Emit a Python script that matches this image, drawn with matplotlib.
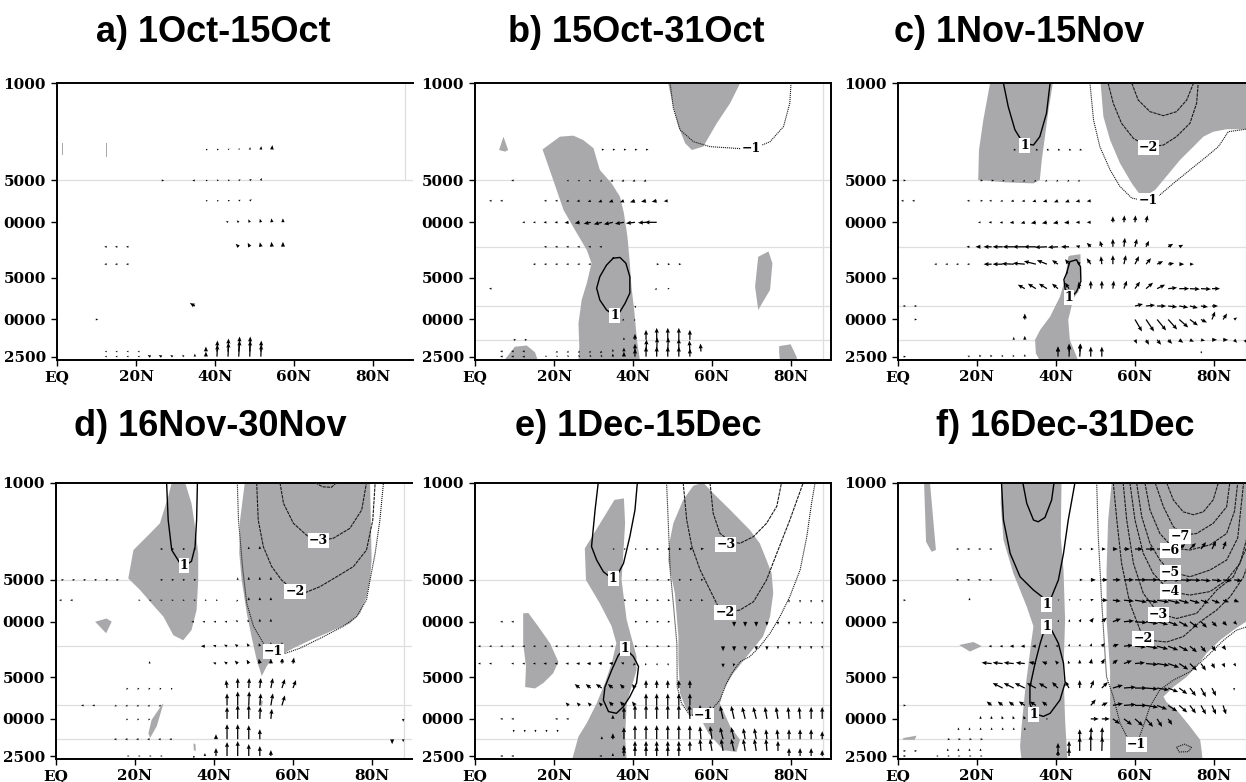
import matplotlib

matplotlib.use("Agg")

import matplotlib.pyplot as plt
from matplotlib.ticker import FixedLocator, NullLocator

# T42 Gaussian latitudes (northern hemisphere), index 0..31
LATS = [1.4, 4.2, 7.0, 9.8, 12.6, 15.3, 18.1, 20.9, 23.7, 26.5, 29.3, 32.1,
        34.9, 37.7, 40.5, 43.3, 46.0, 48.8, 51.6, 54.4, 57.2, 60.0, 62.8,
        65.6, 68.4, 71.2, 73.9, 76.7, 79.5, 82.3, 85.1, 87.9]

P_TICKS = [1000, 5000, 10000, 25000, 50000, 92500]
P_TICKLABELS = ["1000", "5000", "0000", "5000", "0000", "2500"]
LAT_TICKS = [0, 20, 40, 60, 80]
LAT_TICKLABELS = ["EQ", "20N", "40N", "60N", "80N"]
GUIDE_LEVELS = [5000, 15000, 40000, 70000]

TITLES = ["a) 1Oct-15Oct", "b) 15Oct-31Oct", "c) 1Nov-15Nov",
          "d) 16Nov-30Nov", "e) 1Dec-15Dec", "f) 16Dec-31Dec"]

# ---- significance shading: polygons of (lat, pressure) -------------------
shade_a = [
    [(1.2, 2700), (1.6, 2700), (1.6, 3300), (1.2, 3300)],
    [(12.3, 2700), (12.7, 2700), (12.7, 3400), (12.3, 3400)],
]
shade_b = [
    [(48.9, 1000), (67.1, 1000), (64.6, 1390), (61.2, 1940), (57.8, 2850),
     (54.9, 3020), (53.2, 2700), (51.5, 2050), (50.2, 1470)],
    [(6.1, 3020), (7.2, 2420), (8.4, 3020), (7.6, 3100)],
    [(17.1, 2990), (21.5, 2420), (24.9, 2380), (27.4, 2560), (30.0, 2930),
     (31.6, 4200), (34.6, 5250), (36.7, 6540), (37.7, 8600), (38.6, 12700),
     (39.2, 19700), (39.6, 29000), (40.3, 42700), (41.0, 70000),
     (41.8, 100000), (26.2, 100000), (26.4, 78500), (26.2, 53300),
     (27.0, 36200), (28.3, 27400), (29.5, 19700), (28.3, 15800),
     (25.3, 11350), (22.4, 8140), (19.8, 4960)],
    [(71.7, 17700), (74.3, 16200), (75.3, 19700), (74.7, 30600),
     (71.7, 42700), (70.9, 29000)],
    [(77.0, 77700), (79.9, 75400), (81.4, 92500), (81.6, 100000),
     (77.2, 100000), (77.0, 86000)],
    [(7.2, 100000), (10.1, 78500), (13.1, 76900), (15.2, 86100),
     (16.0, 100000)],
]
shade_c = [
    [(23.3, 1000), (39.2, 1000), (38.1, 1555), (37.2, 2420), (36.4, 3560),
     (35.9, 4960), (34.3, 5250), (27.0, 5150), (20.3, 4960), (20.5, 3020),
     (21.6, 1835)],
    [(51.3, 1000), (90, 1000), (90, 2140), (83.2, 2140), (79.8, 2230),
     (77.3, 2420), (74.8, 2855), (71.4, 3560), (67.2, 4960), (65.1, 5850),
     (63.0, 6350), (61.3, 6350), (59.2, 5250), (56.2, 3760), (53.7, 2560),
     (52.0, 1735)],
    [(43.4, 17400), (46.2, 16950), (46.2, 25800), (45.7, 31500),
     (44.4, 35300), (43.1, 50300), (43.5, 70000), (45.7, 100000),
     (36.0, 100000), (34.9, 87500), (34.7, 70000), (36.0, 59300),
     (38.5, 47700), (41.0, 34300), (42.3, 25800), (43.1, 17700)],
]
shade_d = [
    [(29.3, 1000), (32.7, 1000), (34.3, 1408), (35.2, 2070), (36.0, 3223),
     (36.0, 5010), (35.6, 8230), (34.3, 11500), (32.2, 13600), (29.7, 12500),
     (27.2, 9200), (24.2, 7380), (21.3, 5920), (18.3, 4880), (19.6, 3050),
     (23.0, 2443), (26.3, 1960), (28.4, 1260)],
    [(9.9, 10000), (12.8, 9480), (14.1, 10000), (12.7, 12100)],
    [(47.8, 1000), (79.5, 1000), (79.7, 1856), (79.9, 3600), (79.5, 5010),
     (78.6, 6600), (77.0, 8700), (74.4, 10300), (70.2, 11500), (68.5, 12100),
     (64.3, 13600), (60.1, 15500), (57.6, 16900), (55.0, 17900),
     (53.3, 21000), (52.1, 24600), (50.8, 18800), (49.5, 12800),
     (48.3, 8700), (47.0, 5010), (46.4, 3223), (46.6, 1856)],
    [(51.6, 36000), (52.4, 37500), (52.0, 41000), (51.4, 38500)],
    [(26.8, 39700), (27.2, 38700), (25.5, 56500), (23.8, 68700),
     (23.4, 63500), (24.2, 50800)],
    [(34.8, 75000), (35.3, 76000), (35.4, 85000), (34.9, 84000)],
]
shade_e = [
    [(35.3, 1330), (37.7, 1296), (38.0, 1960), (37.55, 3223), (37.1, 5010),
     (38.4, 9700), (40.9, 17800), (40.9, 22300), (38.4, 38700),
     (38.0, 67000), (38.4, 100000), (24.5, 100000), (26.2, 67000),
     (28.3, 53600), (30.8, 38700), (32.9, 27600), (34.6, 19900),
     (35.8, 14300), (34.6, 10800), (31.6, 7380), (28.1, 5010), (27.8, 2970)],
    [(12.2, 8700), (13.5, 8650), (16.0, 10800), (19.0, 14300), (21.1, 19400),
     (19.8, 23500), (17.3, 27600), (15.2, 30200), (12.7, 29500),
     (12.9, 21000), (12.2, 14300)],
    [(55.3, 1050), (57.8, 1000), (60.3, 1190), (64.6, 1570), (69.6, 2190),
     (72.1, 2730), (73.8, 3600), (75.1, 4490), (75.5, 6250), (74.7, 9200),
     (72.9, 12800), (68.8, 17800), (65.4, 23500), (62.9, 30900),
     (62.0, 38700), (64.6, 56500), (67.1, 70700), (66.2, 86400),
     (62.9, 84000), (59.1, 63500), (56.9, 48500), (54.4, 47000),
     (53.2, 40700), (51.9, 32700), (51.5, 18800), (51.5, 12800),
     (50.6, 6250), (48.9, 3600), (49.2, 2730), (50.2, 1960), (52.7, 1330)],
]
shade_f = [
    [(6.6, 1000), (8.1, 1000), (9.6, 3050), (8.5, 3140), (7.1, 2660)],
    [(26.2, 1000), (41.4, 1000), (41.2, 2443), (41.9, 4245), (42.3, 9700),
     (41.9, 22300), (42.3, 50800), (42.9, 100000), (31.3, 100000),
     (30.9, 79000), (31.3, 56500), (32.2, 30900), (33.8, 13600),
     (34.3, 10800), (32.6, 7800), (29.2, 4490), (26.7, 2580), (26.0, 1408)],
    [(54.1, 1000), (90, 1000), (90, 9200), (84.9, 11500), (81.5, 13600),
     (78.1, 16900), (75.6, 21000), (73.1, 24900), (69.7, 29500),
     (67.2, 34600), (68.0, 38000), (70.5, 43000), (73.9, 56500),
     (76.5, 70700), (76.9, 86000), (77.1, 100000), (53.7, 100000),
     (53.7, 50800), (53.7, 22300), (52.8, 9700), (52.8, 4245), (53.2, 1856)],
    [(15.5, 14700), (19.1, 14000), (21.2, 15000), (18.2, 16400)],
    [(1.3, 68700), (4.7, 66000), (4.2, 70700), (1.3, 70700)],
]

# ---- contours: (value, [(lat, p), ...], label position or None) ----------
cont_a = []
cont_b = [
    (1, [(35.0, 18100), (36.7, 17900), (38.2, 19700), (39.2, 24600),
         (39.2, 32300), (38.0, 38200), (36.7, 44000), (35.4, 47000),
         (33.3, 42700), (31.6, 36200), (30.8, 29800), (31.6, 24600),
         (33.3, 20300), (35.0, 18100)], (35.4, 47000)),
    (-1, [(49.4, 1000), (50.2, 1500), (51.9, 2160), (55.3, 2630),
          (59.5, 2855), (67.1, 2950), (70.5, 2950), (74.7, 2630),
          (78.1, 2050), (79.7, 1390), (80.0, 1000)], (70.0, 2960)),
]
cont_c = [
    (1, [(26.7, 1000), (27.9, 1470), (29.6, 2160), (31.7, 2700),
         (34.3, 2780), (35.9, 2420), (37.6, 1640), (38.5, 1000)],
     (32.0, 2780)),
    (1, [(42.7, 23200), (43.5, 19200), (45.2, 18600), (46.2, 20900),
         (46.3, 26600), (45.2, 31500), (44.0, 34300), (42.3, 30200),
         (42.0, 25800), (42.7, 23200)], (43.3, 34800)),
    (-3, [(59.2, 1000), (60.8, 1318), (63.8, 1600), (67.2, 1710),
          (70.5, 1600), (73.1, 1318), (74.8, 1000)], None),
    (-2, [(53.2, 1000), (54.5, 1393), (56.6, 1940), (59.6, 2490),
          (63.4, 2880), (67.2, 2780), (70.5, 2420), (73.9, 1940),
          (75.6, 1393), (76.0, 1000)], (63.4, 2880)),
    (-1, [(48.6, 1000), (49.5, 1835), (51.1, 2855), (53.7, 4200),
          (56.2, 5530), (59.2, 6700), (62.5, 6980), (64.2, 6980),
          (66.3, 6350), (69.7, 5250), (73.9, 4200), (78.1, 3370),
          (81.1, 2855), (82.8, 2420), (83.6, 2230), (90, 2100)],
     (63.3, 6980)),
]
cont_d = [
    (1, [(28.0, 1000), (28.4, 1856), (29.3, 3050), (31.4, 3800),
         (32.7, 3960), (34.3, 3670), (35.2, 2900), (35.6, 1856),
         (35.8, 1000)], (32.4, 3960)),
    (-4, [(65.6, 1000), (67.5, 1070), (69.7, 1080), (71.0, 1000)], None),
    (-3, [(56.7, 1000), (57.6, 1408), (60.1, 1960), (64.3, 2510),
          (66.8, 2610), (70.2, 2510), (74.4, 2130), (77.4, 1570),
          (78.6, 1000)], (66.4, 2610)),
    (-2, [(50.8, 1000), (51.2, 1856), (52.5, 2890), (54.6, 4010),
          (57.1, 5010), (60.5, 6070), (62.6, 6260), (66.8, 5600),
          (71.1, 4740), (75.3, 4010), (78.6, 3050), (80.2, 1856),
          (80.8, 1000)], (60.5, 6070)),
    (-1, [(45.9, 1000), (46.2, 1856), (47.3, 4245), (48.3, 7380),
          (50.0, 10800), (52.5, 14300), (55.0, 16500), (58.0, 16900),
          (61.8, 15500), (66.8, 13200), (72.7, 10800), (76.1, 9200),
          (78.6, 6980), (79.5, 5010), (80.8, 3223), (82.0, 1856),
          (82.9, 1000)], (55.0, 16500)),
]
cont_e = [
    (1, [(31.2, 1000), (30.4, 1570), (29.5, 2880), (30.8, 3600),
         (32.5, 4370), (34.6, 4870), (35.8, 4740), (37.6, 3800),
         (39.2, 2443), (40.5, 1570), (41.1, 1000)], (35.0, 4850)),
    (1, [(38.0, 15500), (40.1, 17800), (41.4, 21000), (40.9, 27600),
         (39.2, 34600), (37.6, 40700), (35.8, 45600), (33.8, 44300),
         (32.5, 36600), (32.9, 29500), (34.6, 22300), (36.3, 17400),
         (38.0, 15500)], (38.0, 15500)),
    (-3, [(59.5, 1000), (60.3, 1660), (62.0, 2310), (64.6, 2650),
          (67.1, 2730), (70.5, 2443), (73.8, 1960), (76.4, 1480),
          (77.6, 1000)], (63.5, 2800)),
    (-2, [(52.7, 1000), (53.6, 1856), (54.9, 2880), (57.0, 4245),
          (59.5, 5920), (62.0, 8230), (63.3, 8600), (67.1, 8230),
          (70.5, 7180), (73.8, 5010), (76.4, 3223), (79.7, 1856),
          (83.1, 1000)], (63.3, 8600)),
    (-1, [(48.5, 1000), (48.9, 1856), (49.4, 4245), (50.2, 7380),
          (51.1, 14300), (51.2, 29500), (52.3, 38700), (54.4, 47000),
          (58.2, 47000), (59.9, 43000), (62.0, 36600), (63.7, 27600),
          (65.0, 23500), (67.1, 19400), (69.6, 17800), (72.1, 15100),
          (74.7, 12100), (77.2, 9200), (79.7, 6600), (82.3, 4245),
          (84.0, 2443), (85.2, 1408), (86.1, 1000)], (57.8, 47000)),
]
cont_f = [
    (1, [(26.2, 1000), (26.7, 1856), (28.4, 3223), (30.9, 4750),
         (34.3, 5920), (36.4, 6590), (37.6, 7380), (38.9, 6590),
         (40.6, 5010), (41.9, 3223), (43.1, 1856), (44.8, 1000)],
     (37.6, 7500)),
    (2, [(31.6, 1000), (32.6, 1408), (34.3, 1856), (35.5, 1910),
         (37.2, 1780), (38.9, 1330), (39.5, 1000)], None),
    (1, [(37.6, 10800), (38.9, 11500), (40.6, 14300), (41.9, 19900),
         (42.3, 27600), (41.0, 36600), (38.5, 45600), (36.8, 48000),
         (34.3, 45600), (33.4, 38700), (33.4, 29500), (34.7, 19900),
         (36.0, 14300), (37.2, 11100), (37.6, 10800)], (37.6, 10800)),
    (1, [], (34.3, 46500)),
    (-1, [(50.3, 1000), (50.7, 2443), (51.6, 7380), (52.4, 16900),
          (52.8, 24900), (54.5, 34600), (56.2, 53600), (58.7, 74200),
          (60.4, 76500), (62.1, 56500), (63.8, 40700), (66.3, 30900),
          (69.7, 26300), (73.9, 22900), (78.1, 17900), (82.4, 13600),
          (85.7, 11500), (90, 10500)], (60.3, 76500)),
    (-1, [(70.5, 80000), (72.5, 76000), (74.3, 80000), (73.5, 86000),
          (71.2, 86500), (70.5, 80000)], None),
    (-2, [(54.5, 1000), (55.4, 1856), (56.6, 3800), (58.7, 7380),
          (61.3, 11500), (63.8, 13600), (68.0, 14000), (72.2, 12800),
          (76.5, 10000), (80.7, 8230), (84.1, 6600), (87.4, 4800),
          (90, 3000)], (62.0, 13300)),
    (-3, [(57.0, 1000), (57.9, 1856), (59.6, 3800), (62.1, 6250),
          (65.9, 8700), (70.5, 9480), (75.6, 8700), (80.7, 5920),
          (84.9, 4750), (88.1, 3000), (90, 2000)], (65.9, 8800)),
    (-4, [(58.7, 1000), (60.0, 1856), (62.1, 3223), (64.6, 4490),
          (68.9, 6070), (73.9, 6430), (79.0, 6070), (83.2, 5010),
          (86.6, 3800), (88.5, 2400), (89.0, 1000)], (68.9, 6100)),
    (-5, [(60.4, 1000), (61.7, 1755), (63.8, 2730), (66.3, 3600),
          (68.9, 4370), (73.9, 4750), (79.0, 4245), (83.2, 3600),
          (86.0, 2500), (87.5, 1000)], (68.9, 4400)),
    (-6, [(62.5, 1000), (63.8, 1570), (66.3, 2320), (69.7, 2960),
          (73.9, 3050), (79.0, 2800), (83.2, 2320), (85.2, 1600),
          (86.0, 1000)], (68.9, 3050)),
    (-7, [(65.1, 1000), (67.2, 1490), (69.7, 2070), (72.2, 2380),
          (75.6, 2320), (79.8, 1960), (83.2, 1490), (84.0, 1000)],
     (71.4, 2420)),
    (-8, [(68.0, 1000), (69.7, 1330), (72.2, 1620), (74.8, 1700),
          (77.3, 1620), (79.8, 1330), (81.1, 1000)], None),
]

# ---- flux vectors: (pressure level, first lat index, [(u, v) in px]) ------
vec_a = [
    (3000, 13, [(2, 0), (2, 0.5), (1.5, 1), (1, 1.5), (0.5, 2.5), (0.5, 3.5),
                (0.5, 4.5)]),
    (5000, 9, [(2.5, 0)]),
    (5000, 12, [(-2.5, 0), (2, 0), (2, 0.5), (2, 0.5), (2, 1), (2, 1.5),
                (1, 2.5)]),
    (7000, 13, [(2, 0), (2, 0), (2, 0.5), (2, 1), (2, 1.5)]),
    (10000, 15, [(-2, 1.5), (-2, 2), (-1.5, 3), (-1, 3.5), (-0.5, 4),
                 (0, 4)]),
    (15000, 4, [(-2.5, 0), (-2.5, 0), (-2.5, 0)]),
    (15000, 16, [(-3, 3), (-2, 4), (-1, 4.5), (-0.5, 5), (0, 5)]),
    (20000, 4, [(-2.5, 0), (-2.5, 0), (-2.5, 0)]),
    (40000, 12, [(-5, 3)]),
    (50000, 3, [(2.5, 0)]),
    (85000, 4, [(-2, 0), (-2, 0), (-2, 0), (-2, 0)]),
    (85000, 13, [(0, 5), (0.5, 11), (0.5, 13), (1, 15), (0.5, 15), (0.5, 11)]),
    (92500, 4, [(-2, 0.5), (-2, 0.5), (-2, 0.5), (-2, 0.5), (-3, 1.5),
                (-3, 1.5), (-2.5, 1.5), (-1.5, 2), (0, 3), (0, 5), (0.5, 12),
                (0.5, 14), (1, 16), (0.5, 16), (0.5, 12)]),
]
vec_b = [
    (3000, 11, [(2.5, 0)] * 5),
    (5000, 3, [(-2.5, 0)]),
    (5000, 8, [(-2, -0.5), (-2, -0.5), (-2, -0.5), (-2, -1), (-2.5, -1),
               (-2.5, -1), (-2.5, -1), (-2.5, -1)]),
    (7000, 1, [(-2.5, 0), (-2.5, 0)]),
    (7000, 6, [(-2.5, 0), (-2.5, 0), (-2.5, -0.5), (-3, -0.5), (-3, -1),
               (-3.5, -1.5), (-4, -1.5), (-4, -1.5), (-5, -1.5), (-5, -1),
               (-5, -1), (-4, -0.5)]),
    (10000, 4, [(-2.5, 0), (-2.5, 0), (-3, 0), (-3, 0), (-4, -0.5), (-5, -1),
                (-7, -1.5), (-8, -2), (-9, -2), (-9, -1.5), (-9, -1),
                (-8, -0.5), (-12, 0)]),
    (15000, 6, [(-2.5, 0)] * 6),
    (20000, 5, [(-2.5, 0)] * 6),
    (20000, 16, [(2.5, 0)] * 3),
    (30000, 1, [(-2.5, 0)]),
    (30000, 16, [(-2, -1), (2, 0)]),
    (40000, 14, [(1, -2)]),
    (50000, 12, [(-2, 1), (-2, -1), (-1, -1.5)]),
    (70000, 3, [(2.5, 0), (2.5, 0)]),
    (70000, 13, [(0, 2.5), (0, 6), (0, 10), (0, 12), (0, 12), (0, 12),
                 (0, 10)]),
    (85000, 2, [(-2.5, 0.5), (-2.5, 0.5), (-2.5, 0.5)]),
    (85000, 7, [(-2, -1), (-2, -1), (-2, -1), (-2, -1), (-2, -1.5), (0, 2.5),
                (0, 4), (0, 8), (0.5, 12), (0.5, 14), (0.5, 14), (0, 13),
                (-0.5, 11), (-0.5, 8)]),
    (92500, 2, [(-2.5, 0.5), (-2.5, 0.5), (-2.5, 0)]),
    (92500, 6, [(-1.5, 1), (-1.5, 1), (-1.5, 1.5), (-1.5, 1.5), (-1, 2),
                (-1, 2), (0, 3), (0, 5), (0, 8), (0, 10), (0, 10), (0, 10),
                (0, 10), (0, 8)]),
]
vec_c = [
    (3000, 10, [(2.5, -0.5)] * 7),
    (5000, 0, [(2.5, 0)]),
    (5000, 7, [(2.5, 0), (2.5, 0), (2, -0.5), (-2, -1), (-2, -1), (-2, -1),
               (-2, -1), (-2, -1), (-2, -1), (-2, -1)]),
    (7000, 0, [(-2.5, 0), (-2.5, 0)]),
    (7000, 6, [(-2.5, 0), (2.5, 0), (-2.5, 0), (-2.5, -0.5), (-3, -0.5),
               (-3, -0.5), (-3.5, -1), (-4, -1), (-4, -1.5), (-4, -1.5),
               (-4, -1), (-4, -0.5)]),
    (10000, 7, [(-2.5, 0), (-3, 0), (-3, -0.5), (-4, -0.5), (-4, -1),
                (-5, -1), (-5, -1), (-5, -1), (-5, -0.5), (-4, 0), (-4, 0)]),
    (10000, 19, [(0, 6), (0.5, 7), (0.5, 7), (1.5, 7)]),
    (15000, 6, [(-3, 0), (-5, 0), (-8, 0), (-10, 0), (-11, 0), (-12, 0),
                (-12, 0), (-12, -0.5), (-10, -0.5), (-8, 0), (-4, 1),
                (-4, 4), (-2, 6), (0, 8), (1, 9), (2, 8), (3, 6)]),
    (15000, 24, [(5, 3), (4, 2)]),
    (20000, 3, [(-2.5, 0)] * 4),
    (20000, 8, [(-8, 0), (-10, 0), (-12, 0.5), (-12, 1), (-12, 3), (-10, 4),
                (-6, 4), (-4, 5), (-3, 3), (-4, 6), (-1, 8), (0, 9), (2, 9),
                (4, 8), (5, 6), (6, 3), (6, 1), (5, 0), (4, 0)]),
    (30000, 11, [(-7, 4), (-8, 5), (-8, 5), (-6, 5), (-4, 6), (-1, 7),
                 (0, 8), (0, 8), (1, 8), (3, 8), (5, 7), (7, 6), (8, 4),
                 (9, 1), (10, 0), (10, -0.5), (10, -0.5), (8, 0)]),
    (40000, 0, [(2.5, 0), (2.5, 0)]),
    (40000, 21, [(8, 2), (9, 1), (9, 0), (9, -1), (9, -1.5), (8, -2), (7, -1),
                 (6, 0)]),
    (50000, 1, [(2.5, 0)]),
    (50000, 11, [(0, 6)]),
    (50000, 21, [(7, -12), (8, -12), (9, -11), (9, -10), (9, -8), (8, -6),
                 (6, -3), (3, 8), (4, 6), (3, 2)]),
    (70000, 10, [(0, 3), (0, 4)]),
    (70000, 21, [(2, -4), (3, -5), (4, -5), (4, -4), (4, -3), (4, -2),
                 (4, -1), (5, 0), (5, 0), (3, -3), (2, -4)]),
    (85000, 14, [(0, 5), (0, 8), (0.5, 8)]),
    (85000, 27, [(1, -2)]),
    (92500, 0, [(2.5, 0)]),
    (92500, 6, [(-2, 1), (-1.5, 2), (-1.5, 2), (-1, 2), (-1, 2), (0, 2.5)]),
    (92500, 14, [(0, 10), (0.5, 12), (1, 13), (0, 10), (0, 10)]),
]
vec_d = [
    (3000, 9, [(2.5, 0)] * 4),
    (3000, 17, [(0, 2.5), (0, 3)]),
    (5000, 0, [(2.5, 0)] * 6),
    (5000, 9, [(2.5, 0)] * 4),
    (5000, 16, [(0, 2.5), (0, 3), (0, 3), (0, 3)]),
    (7000, 0, [(-2.5, 0), (-2.5, 0)]),
    (7000, 7, [(2, 0)] * 8),
    (7000, 16, [(-1.5, -1.5), (0, 3), (0, 3), (0, 3)]),
    (10000, 12, [(-2.5, 0), (-2.5, 0), (-2.5, 0), (-2.5, 0), (-2, 1.5),
                 (-1.5, 2), (0, 3), (0, 3)]),
    (15000, 13, [(-4, 0), (-3, 1), (-3, 1.5), (-3, 2), (-2, 3), (-1, 3),
                 (0, 4), (0, 4)]),
    (20000, 8, [(0, 2.5)]),
    (20000, 14, [(-3, 1), (-3, 2), (-3, 3), (-2, 4), (-1, 5), (0, 5),
                 (0.5, 6), (1, 6)]),
    (30000, 6, [(-1, -2), (-1, -2), (-1, -2), (-1, -2), (-0.5, -2)]),
    (30000, 15, [(-1, 8), (0, 10), (0.5, 10), (1, 10), (2, 10), (3, 9),
                 (3, 8)]),
    (40000, 2, [(-2.5, 0), (-2.5, 0)]),
    (40000, 5, [(-2, -1)] * 5),
    (40000, 15, [(0, 12), (0, 14), (0.5, 14), (1, 12), (2, 12), (3, 10)]),
    (50000, 6, [(-1.5, -1.5)] * 3),
    (50000, 15, [(0, 12), (0, 14), (0, 14), (0.5, 12), (1, 10)]),
    (50000, 31, [(0, -3)]),
    (70000, 5, [(-2.5, 0)] * 6),
    (70000, 14, [(0, 5), (0, 15), (0, 15), (0, 14), (0, 10)]),
    (70000, 30, [(0, -5), (0, -3)]),
    (92500, 6, [(2, 0)] * 4),
    (92500, 12, [(0, -2.5), (0, 3), (0, 8), (0, 14), (0, 15), (0, 12),
                 (0, 10), (0, 6)]),
]
vec_e = [
    (3000, 12, [(2, 0), (2, 0), (2, 0), (2.5, 0), (2.5, 0), (3, 0), (3, 0),
                (3, 0.5), (3, 0.5)]),
    (5000, 14, [(2.5, 0)] * 7),
    (7000, 13, [(2.5, 0)] * 8),
    (7000, 28, [(0, -2.5)] * 4),
    (10000, 2, [(-2.5, 0), (-2.5, 0)]),
    (10000, 14, [(2.5, 0)] * 4),
    (10000, 23, [(0, -5), (0, -5), (0, -5), (0, -4), (0, -3), (0, -3),
                 (0, -2.5), (0, -2.5), (0, -2.5)]),
    (15000, 0, [(-2.5, 0)] * 12),
    (15000, 12, [(-2.5, 0), (-2.5, 0), (2.5, 0), (2.5, 0), (2.5, 0),
                 (2.5, 0)]),
    (15000, 22, [(0, -5), (0, -5), (0, -4), (0, -4), (0, -4), (0, -3),
                 (0, -3), (0, -3), (0, -3), (0, -2.5)]),
    (20000, 0, [(-2.5, 0), (-2.5, 0)]),
    (20000, 3, [(-2.5, 0), (-2.5, 0), (-2.5, 0), (-3, 0), (-3, 0), (-3, 0),
                (-3.5, 0), (-4, 0), (-4, 0.5), (-4, 0.5), (-3, 1), (-2, -2),
                (-1, -2), (1, -2), (1, -2)]),
    (20000, 22, [(0, -4), (-1, -3)]),
    (30000, 9, [(-5, 4), (-5, 4), (-6, 4), (-5, 4), (-4, 4), (-3, 4), (0, 8),
                (0, 8), (0, 8), (0, 8), (0, 8)]),
    (40000, 8, [(-3, 3), (-3, 3), (-3, 3), (-3, 3), (-4, 4), (-4, 4),
                (-3, 4), (0, 12), (0, 12), (0, 12), (0, 12), (0, 12)]),
    (50000, 2, [(-2.5, 0), (-2.5, 0)]),
    (50000, 7, [(-2.5, 0), (-2.5, 0)]),
    (50000, 12, [(0, 4), (0, 12), (0, 14), (0, 14), (0, 14), (0, 14),
                 (0, 14), (-0.5, 14), (-1, 14), (-2, 13), (-3, 13), (-3, 13),
                 (-3, 12), (-3, 12), (-2, 12), (-2, 12), (-1, 12), (-1, 12),
                 (0, 12), (0, 12)]),
    (60000, 3, [(0, -2.5)] * 5),
    (70000, 11, [(0, 3), (0, 6), (0, 12), (0, 14), (0, 14), (0, 14), (0, 14),
                 (0, 14), (0, 14), (-1, 13), (-2, 13), (-3, 12), (-3, 12),
                 (-2, 11), (-2, 11), (-1, 10), (-1, 10), (0, 10), (0, 10),
                 (0, 10), (0, 8)]),
    (85000, 13, [(0, 6), (0, 10), (0, 10), (0, 10), (0, 10), (0, 10),
                 (0, 10), (-1, 12), (-2, 12), (-2, 12), (-3, 12), (-2, 12),
                 (-2, 12), (-1, 12), (0, 10)]),
    (92500, 2, [(-2.5, 0), (-2.5, 0)]),
    (92500, 11, [(-2.5, 0), (0, 3), (0, 8), (0, 10), (0, 10), (0, 10),
                 (0, 10), (0, 10)]),
    (92500, 28, [(0, 8), (0, 8), (0, 8), (0, 6)]),
]
vec_f = [
    (3000, 5, [(-2.5, 0)] * 4),
    (3000, 16, [(2.5, 0), (3, 0), (4, 0), (5, 0), (6, 0), (8, 0), (9, 0),
                (10, 0), (10, 0.5)]),
    (3000, 25, [(6, 5), (6, 6), (5, 7), (4, 8), (3, 8)]),
    (5000, 5, [(-2.5, 0)] * 4),
    (5000, 16, [(3, 0), (5, 0), (6, 0), (8, 0), (10, 0), (12, 0), (12, 0),
                (12, 0), (12, 0), (12, -0.5), (11, -0.5), (10, -1), (10, -1),
                (9, -1), (8, -1)]),
    (7000, 0, [(2.5, 0)]),
    (7000, 6, [(0, 2.5)]),
    (7000, 14, [(1.5, 0.5), (1.5, 1), (2, 1), (3, 1), (6, 0), (8, -1),
                (10, -1), (12, -2), (12, -2), (12, -2), (12, -3), (10, -3),
                (10, -3), (8, -3), (8, -3), (6, -2), (5, -2)]),
    (10000, 13, [(0.5, 2), (1, 2), (1, 2.5), (1.5, 3), (3, 4), (5, 4),
                 (8, 3), (10, 1), (12, -1), (12, -2), (11, -3), (10, -4),
                 (9, -5), (8, -6), (6, -6), (5, -5), (4, -4), (3, -3)]),
    (15000, 8, [(-3, 0), (-3, 0), (-4, 0), (-4, 0), (-4, 0), (-3, 0),
                (-2.5, 0.5)]),
    (15000, 15, [(0.5, 2.5), (0.5, 2.5), (1, 3), (3, 3), (6, 2), (9, 1),
                 (11, -1), (12, -2), (11, -3), (10, -4), (9, -5), (7, -6),
                 (5, -6), (4, -5), (3, -4)]),
    (20000, 8, [(-10, 1), (-10, 1), (-10, 1), (-9, 1), (-7, 1.5), (-5, 2),
                (-3, 3), (-1, 3), (0, 4), (1, 5), (3, 5), (5, 4), (8, 3),
                (10, 1), (12, -1), (12, -2), (11, -4), (9, -6), (7, -7),
                (5, -7), (3, -5), (2, -4), (2, -3)]),
    (30000, 9, [(-10, 5), (-10, 5), (-10, 5), (-9, 5), (-8, 5), (-6, 6),
                (-4, 7), (0, 8), (3, 8), (6, 6), (10, 3), (12, 1), (12, 0),
                (12, -1), (12, -2), (10, -4), (8, -6), (6, -8), (5, -9),
                (4, -8)]),
    (30000, 30, [(0, -2.5)]),
    (40000, 0, [(2.5, 0)]),
    (40000, 8, [(-5, 4), (-5, 4), (-5, 4), (-6, 4), (-6, 4), (-5, 4)]),
    (40000, 17, [(5, 6), (6, 3), (10, 2), (12, 1), (12, 0), (12, -2),
                 (10, -4), (9, -6), (8, -7), (6, -8), (5, -9), (4, -9),
                 (3, -9)]),
    (50000, 7, [(0, 3), (-0.5, 3), (-1, 3), (-1, 3), (-1.5, 3), (-1, 2.5),
                (-1, 1)]),
    (50000, 17, [(8, 0), (8, 0), (7, -5), (8, -6), (8, -7), (7, -8), (5, -8),
                 (4, -6)]),
    (60000, 5, [(0, 2.5)] * 7),
    (70000, 4, [(2.5, 0)] * 4),
    (70000, 16, [(0, 10), (0.5, 12), (0.5, 12)]),
    (85000, 0, [(2.5, 0), (2.5, 0)]),
    (85000, 4, [(0, 2.5)] * 4),
    (85000, 14, [(0, 8), (0, 10), (0, 14), (0, 16), (0.5, 14)]),
    (92500, 0, [(2.5, 0)]),
    (92500, 3, [(2, 0)] * 5),
    (92500, 14, [(0, 6), (0, 8)]),
]

SHADES = [shade_a, shade_b, shade_c, shade_d, shade_e, shade_f]
CONTS = [cont_a, cont_b, cont_c, cont_d, cont_e, cont_f]
VECS = [vec_a, vec_b, vec_c, vec_d, vec_e, vec_f]

SHADE_COLOR = "#a9a9ab"
GUIDE_COLOR = "#dedede"

# panel frames in pixels of the 1246x782 canvas
W, H = 1246.0, 782.0
AX_W, AX_H = 355.5, 276.7
LEFTS = [57, 475, 898, 56, 475, 898]
TOPS = [83.3, 83.3, 83.3, 482.7, 482.7, 482.7]
TITLE_X = [213, 636, 1019, 210, 638, 1065]
TITLE_Y = [32, 32, 32, 426, 426, 426]

fig = plt.figure(figsize=(W / 100, H / 100), dpi=100)

for k in range(6):
    ax = fig.add_axes([LEFTS[k] / W, 1 - (TOPS[k] + AX_H) / H, AX_W / W, AX_H / H])
    ax.set_yscale("log")
    ax.set_xlim(0, 90)
    ax.set_ylim(97800, 1000)

    # faint horizontal guides and the 88N edge line
    if k == 0:
        ax.axhline(5000, color=GUIDE_COLOR, lw=0.9, zorder=0.5)
        ax.vlines(88.0, 1000, 5000, color=GUIDE_COLOR, lw=0.9, zorder=0.5)
    else:
        for lev in GUIDE_LEVELS:
            ax.axhline(lev, color=GUIDE_COLOR, lw=0.9, zorder=0.5)
        ax.axvline(88.0, color=GUIDE_COLOR, lw=0.9, zorder=0.5)

    for poly in SHADES[k]:
        xs, ys = zip(*poly)
        ax.fill(xs, ys, color=SHADE_COLOR, lw=0, zorder=1)

    for val, pts, lab in CONTS[k]:
        if pts:
            xs, ys = zip(*pts)
            if val > 0:
                ax.plot(xs, ys, color="k", lw=1.0, zorder=3,
                        solid_joinstyle="round")
            else:
                dash = (0, (1.0, 0.8)) if val == -1 else (0, (3.0, 0.8))
                ax.plot(xs, ys, color="#1a1a1a", lw=0.8, ls=dash, zorder=3)
        if lab is not None:
            txt = str(val) if val > 0 else "\u2212" + str(-val)
            ax.text(lab[0], lab[1], txt, ha="center", va="center",
                    fontsize=9, fontweight="bold", family="DejaVu Serif",
                    zorder=6,
                    bbox=dict(boxstyle="square,pad=0.08", fc="white",
                              ec="none"))

    X, Y, U, V = [], [], [], []
    for lev, i0, uv in VECS[k]:
        for j, (u, v) in enumerate(uv):
            X.append(LATS[i0 + j])
            Y.append(lev)
            U.append(u)
            V.append(v)
    ax.quiver(X, Y, U, V, angles="uv", scale_units="dots", scale=1,
              units="dots", width=1.25, headwidth=3.4, headlength=4.0,
              headaxislength=3.6, minlength=1.2, pivot="tail", color="k",
              zorder=4)

    ax.yaxis.set_major_locator(FixedLocator(P_TICKS))
    ax.yaxis.set_minor_locator(NullLocator())
    ax.set_yticklabels(P_TICKLABELS)
    ax.set_xticks(LAT_TICKS)
    ax.set_xticklabels(LAT_TICKLABELS)
    ax.tick_params(axis="y", direction="out", length=4, width=1, pad=4)
    ax.tick_params(axis="x", direction="out", length=4, width=1, pad=3)
    for lab in ax.get_xticklabels() + ax.get_yticklabels():
        lab.set_family("DejaVu Serif")
        lab.set_fontweight("bold")
        lab.set_fontsize(11)

    for side in ("left", "bottom", "top"):
        ax.spines[side].set_linewidth(1.4)
    if k in (0, 3):
        ax.spines["right"].set_visible(False)
    else:
        ax.spines["right"].set_linewidth(1.4)

    fig.text(TITLE_X[k] / W, 1 - TITLE_Y[k] / H, TITLES[k], ha="center",
             va="center", fontsize=26, fontweight="bold",
             family="Liberation Sans")

fig.savefig("out.png", dpi=100)
plt.close(fig)
